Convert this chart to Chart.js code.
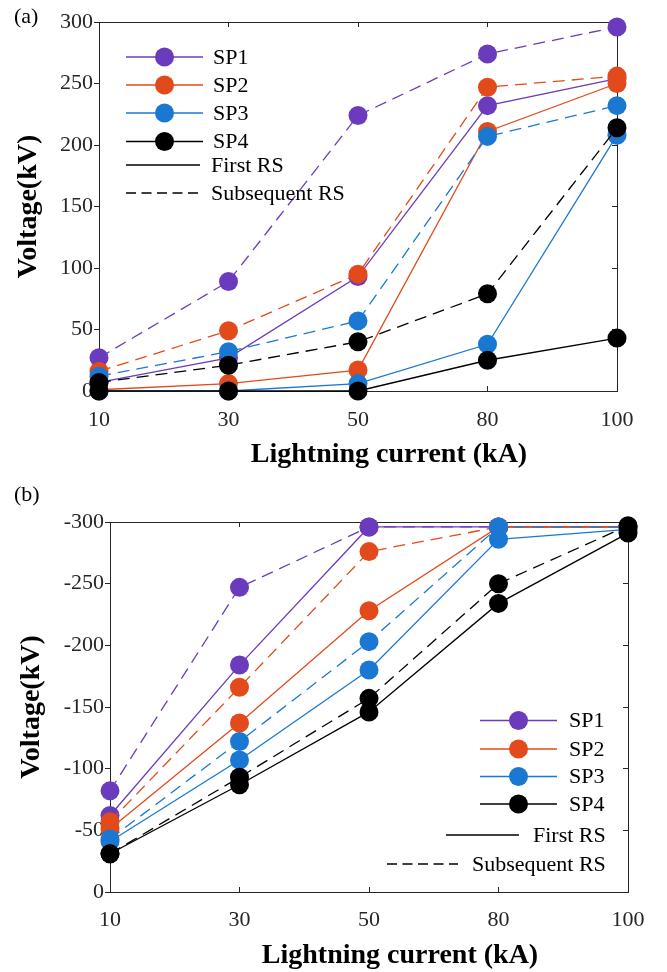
<!DOCTYPE html>
<html>
<head>
<meta charset="utf-8">
<title>Induced voltage vs lightning current</title>
<script src="https://cdn.jsdelivr.net/npm/chart.js@4"></script>
<style>
  html, body { margin: 0; padding: 0; background: #fff; }
  #wrap { position: relative; width: 667px; height: 972px; }
  canvas { position: absolute; left: 0; }
  #panelA { top: 0; }
  #panelB { top: 486px; }
</style>
</head>
<body>
<div id="wrap">
  <canvas id="panelA" width="667" height="486"></canvas>
  <canvas id="panelB" width="667" height="486"></canvas>
</div>
<script>
// lightning current categories (kA)
const currents = ['10', '30', '50', '80', '100'];
const seriesNames = ['SP1', 'SP2', 'SP3', 'SP4'];
const seriesColors = ['#6b3bbd', '#e24a1b', '#1a78d3', '#000000'];

// (a) positive voltage, kV
const aFirstSP1 = [7, 27, 93, 232, 254];
const aFirstSP2 = [1, 6, 17, 211, 250];
const aFirstSP3 = [0, 0, 6, 38, 208];
const aFirstSP4 = [0, 0, 0, 25, 43];
const aSubSP1 = [27, 89, 224, 274, 296];
const aSubSP2 = [16, 49, 95, 247, 256];
const aSubSP3 = [12, 32, 57, 207, 232];
const aSubSP4 = [7, 21, 40, 79, 214];

// (b) negative voltage, kV
const bFirstSP1 = [-62, -184, -296, -296, -296];
const bFirstSP2 = [-51, -137, -228, -296, -296];
const bFirstSP3 = [-41, -107, -180, -286, -294];
const bFirstSP4 = [-31, -87, -146, -234, -291];
const bSubSP1 = [-82, -247, -296, -296, -296];
const bSubSP2 = [-57, -166, -276, -296, -296];
const bSubSP3 = [-43, -122, -203, -296, -296];
const bSubSP4 = [-31, -93, -157, -250, -297];

const aTicks = { min: 0, max: 300, step: 50 };
const bTicks = { min: -300, max: 0, step: 50 };

const SERIF = '"Liberation Serif", "Times New Roman", serif';
const AXIS = '#262626';
const DASH = [12, 7];
Chart.defaults.font.family = SERIF;
Chart.defaults.color = AXIS;

function buildSets(first, sub) {
  const sets = [];
  seriesNames.forEach((name, i) => {
    [[first[i], [], ' First RS'], [sub[i], DASH, ' Subsequent RS']].forEach(([vals, dash, tag]) => {
      sets.push({
        label: name + tag,
        data: vals,
        borderColor: seriesColors[i],
        backgroundColor: seriesColors[i],
        borderWidth: 1.3,
        borderDash: dash,
        pointRadius: 9.5,
        pointBorderWidth: 0,
        pointBackgroundColor: seriesColors[i],
        tension: 0,
        clip: false
      });
    });
  });
  // later series are painted on top
  sets.forEach((s, i) => { s.order = -i; });
  return sets;
}

// panel letter, x-axis title and the two-part legend
const decorations = {
  id: 'decorations',
  afterDraw(chart, args, o) {
    const { ctx, chartArea } = chart;
    ctx.save();
    ctx.fillStyle = '#000';
    ctx.textBaseline = 'middle';
    ctx.font = '22px ' + SERIF;
    ctx.fillText(o.letter, o.letterX, o.letterY);

    ctx.font = 'bold 28px ' + SERIF;
    ctx.textAlign = 'center';
    ctx.fillText('Lightning current (kA)', (chartArea.left + chartArea.right) / 2 + 31, o.titleY);

    const L = o.legend;
    ctx.textAlign = 'left';
    ctx.font = '22px ' + SERIF;
    ctx.lineWidth = 1.5;
    seriesNames.forEach((name, i) => {
      const y = L.spY[i];
      ctx.strokeStyle = seriesColors[i];
      ctx.setLineDash([]);
      ctx.beginPath();
      ctx.moveTo(L.spLine[0], y);
      ctx.lineTo(L.spLine[1], y);
      ctx.stroke();
      ctx.fillStyle = seriesColors[i];
      ctx.beginPath();
      ctx.arc((L.spLine[0] + L.spLine[1]) / 2, y, 9.5, 0, Math.PI * 2);
      ctx.fill();
      ctx.fillStyle = '#000';
      ctx.fillText(name, L.spText, y + 1);
    });
    [[L.first, [], 'First RS'], [L.sub, [10, 5.5], 'Subsequent RS']].forEach(([row, dash, text]) => {
      ctx.strokeStyle = '#000';
      ctx.setLineDash(dash);
      ctx.beginPath();
      ctx.moveTo(row.x1, row.y);
      ctx.lineTo(row.x2, row.y);
      ctx.stroke();
      ctx.fillText(text, row.text, row.y + 1);
    });
    ctx.restore();
  }
};

function makePanel(id, first, sub, range, box, deco) {
  const fixWidth = w => scale => { scale.width = w; };
  const fixHeight = h => scale => { scale.height = h; };
  const tickFont = { family: SERIF, size: 22 };
  return new Chart(document.getElementById(id), {
    type: 'line',
    data: { labels: currents, datasets: buildSets(first, sub) },
    plugins: [decorations],
    options: {
      responsive: false,
      animation: false,
      events: [],
      layout: { padding: { top: box.top, right: box.right, left: 0, bottom: 0 } },
      scales: {
        x: {
          type: 'category',
          offset: false,
          grid: { drawOnChartArea: false, tickLength: -5, color: AXIS },
          border: { color: AXIS, width: 1 },
          ticks: { font: tickFont, color: AXIS, padding: box.xPad, maxRotation: 0, autoSkip: false },
          afterFit: fixHeight(box.xHeight)
        },
        x2: {
          type: 'category',
          position: 'top',
          offset: false,
          grid: { drawOnChartArea: false, tickLength: -5, color: AXIS },
          border: { color: AXIS, width: 1 },
          ticks: { display: false },
          afterFit: fixHeight(0)
        },
        y: {
          min: range.min,
          max: range.max,
          reverse: range.max === 0,
          grid: { drawOnChartArea: false, tickLength: 5, color: AXIS },
          border: { color: AXIS, width: 1 },
          ticks: { stepSize: range.step, font: tickFont, color: AXIS, padding: 1 },
          title: {
            display: true,
            text: 'Voltage(kV)',
            color: '#000',
            font: { family: SERIF, size: 28, weight: 'bold' },
            padding: { top: box.titlePad, bottom: 0 }
          },
          afterFit: fixWidth(box.left)
        },
        y2: {
          position: 'right',
          min: range.min,
          max: range.max,
          reverse: range.max === 0,
          grid: { drawOnChartArea: false, tickLength: -5, color: AXIS },
          border: { color: AXIS, width: 1 },
          ticks: { display: false, stepSize: range.step },
          afterFit: fixWidth(0)
        }
      },
      plugins: {
        legend: { display: false },
        tooltip: { enabled: false },
        decorations: deco
      }
    }
  });
}

makePanel('panelA',
  [aFirstSP1, aFirstSP2, aFirstSP3, aFirstSP4],
  [aSubSP1, aSubSP2, aSubSP3, aSubSP4],
  aTicks,
  { top: 22, right: 50, left: 99, xHeight: 95, xPad: 21, titlePad: 12 },
  {
    letter: '(a)', letterX: 14, letterY: 17, titleY: 455,
    legend: {
      spY: [57, 85, 113, 141.5], spLine: [126, 203], spText: 213,
      first: { y: 165, x1: 126, x2: 200, text: 211 },
      sub: { y: 193, x1: 126, x2: 200, text: 211 }
    }
  });

makePanel('panelB',
  [bFirstSP1, bFirstSP2, bFirstSP3, bFirstSP4],
  [bSubSP1, bSubSP2, bSubSP3, bSubSP4],
  bTicks,
  { top: 36, right: 39, left: 110, xHeight: 80, xPad: 20, titlePad: 15 },
  {
    letter: '(b)', letterX: 14, letterY: 9, titleY: 470,
    legend: {
      spY: [234.5, 263, 290.5, 318], spLine: [480, 557], spText: 569,
      first: { y: 349, x1: 446, x2: 519, text: 533 },
      sub: { y: 378, x1: 387, x2: 458, text: 472 }
    }
  });
</script>
</body>
</html>
